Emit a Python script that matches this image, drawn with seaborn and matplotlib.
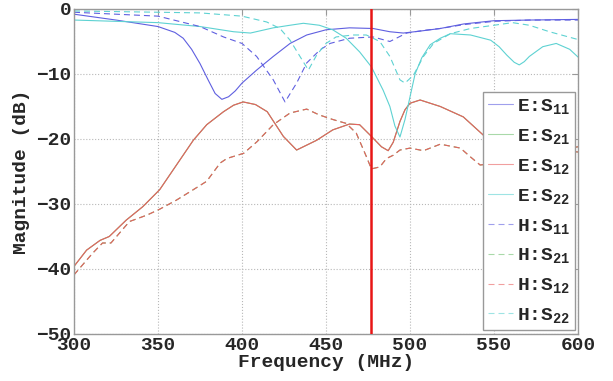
import numpy as np
import pandas as pd
import seaborn as sns
import matplotlib
matplotlib.use("Agg")
import matplotlib.pyplot as plt

# values (frequency in MHz, magnitude in dB)
e_s11_f = [300, 325, 350, 360, 365, 370, 375, 380, 384, 388, 392, 396, 400, 408.7, 418.6, 428.6, 438.5,
           450, 464, 478, 488, 496, 506, 518, 532, 550, 571, 600]
e_s11_v = [-0.8, -1.7, -2.7, -3.6, -4.5, -6.2, -8.4, -11.0, -13.0, -13.9, -13.5, -12.6, -11.4, -9.4, -7.3,
           -5.3, -4.0, -3.2, -2.9, -3.0, -3.5, -3.7, -3.4, -3.0, -2.3, -1.8, -1.7, -1.6]

e_s22_f = [300, 350, 375, 395, 405, 418.6, 428.6, 436.5, 446, 454, 462, 470, 477, 484, 488, 491, 494,
           497, 500, 503, 507, 512, 518, 524, 536, 548, 553, 557.6, 562, 565, 568, 571, 579, 587,
           595, 600]
e_s22_v = [-1.7, -2.1, -2.7, -3.5, -3.7, -2.9, -2.5, -2.2, -2.5, -3.2, -4.5, -6.6, -8.9, -12.5, -15.0,
           -18.0, -19.7, -17.0, -13.5, -10.0, -7.5, -5.5, -4.5, -3.8, -4.0, -4.8, -5.8, -7.1, -8.2, -8.6,
           -8.1, -7.3, -5.8, -5.3, -6.2, -7.4]

h_s11_f = [300, 350, 375, 389, 400, 408.7, 418.6, 425.6, 432.5, 438.5, 446.4, 452.4, 464, 478, 488,
           498, 508, 518, 532, 550, 571, 600]
h_s11_v = [-0.5, -1.1, -2.7, -4.3, -5.3, -7.3, -10.9, -14.3, -11.4, -8.3, -6.3, -5.3, -4.5, -4.3, -5.0,
           -3.7, -3.3, -3.0, -2.4, -1.9, -1.7, -1.7]

h_s22_f = [300, 350, 375, 400, 414.7, 422.6, 428.6, 434.5, 439.5, 444.4, 450, 456, 466, 474, 482, 488,
           494, 497, 502, 508, 514, 524, 536, 550, 561, 571, 583, 600]
h_s22_v = [-0.3, -0.5, -0.6, -1.1, -2.0, -3.0, -4.8, -7.3, -9.4, -7.1, -5.3, -4.3, -4.0, -4.0, -5.0, -7.3,
           -10.9, -11.4, -10.2, -7.3, -5.3, -3.8, -3.0, -2.5, -2.1, -2.5, -3.5, -4.7]

e_s12_f = [300, 307.5, 315.5, 321, 331, 341, 351, 361, 371, 379, 383, 389, 395, 400.7, 408, 415, 424.6,
           432.5, 444.4, 454, 464, 470, 477, 483, 487, 490, 494, 497, 500, 506, 518, 531.7, 543.6,
           560, 580, 600]
e_s12_v = [-39.6, -37.1, -35.6, -35.0, -32.5, -30.4, -27.8, -24.0, -20.2, -17.8, -17.0, -15.8, -14.8, -14.3,
           -14.7, -15.8, -19.6, -21.7, -20.2, -18.6, -17.7, -17.8, -19.6, -21.2, -21.8, -20.5, -17.3, -15.5,
           -14.5, -14.0, -15.0, -16.6, -19.4, -20.8, -21.6, -22.0]

h_s12_f = [300, 311, 317, 322, 333, 343.5, 351, 361, 371, 379, 387, 391, 401, 409, 418.6, 428.6, 438.5,
           446, 454, 462, 468, 474, 477, 482, 486, 490, 494, 500, 508, 518, 530, 535.7, 541.7, 560,
           580, 600]
h_s12_v = [-40.9, -37.6, -36.0, -36.0, -32.7, -31.7, -30.8, -29.4, -27.8, -26.5, -23.7, -23.0, -22.2, -20.4,
           -17.8, -16.0, -15.4, -16.3, -17.0, -17.6, -19.1, -22.7, -24.6, -24.3, -23.0, -22.5, -21.7, -21.4,
           -21.8, -20.8, -21.4, -22.7, -24.0, -23.5, -22.0, -21.2]

# reciprocal network: S21 equals S12 (hidden under the red curves)
e_s21_f, e_s21_v = e_s12_f, e_s12_v
h_s21_f, h_s21_v = h_s12_f, h_s12_v

marker_freq = 477

sns.set_style("white")
plt.rcParams['font.family'] = ['Liberation Mono', 'DejaVu Sans']
plt.rcParams['font.weight'] = 'bold'
plt.rcParams['mathtext.fontset'] = 'custom'
plt.rcParams['mathtext.rm'] = 'Liberation Mono:bold'
plt.rcParams['mathtext.bf'] = 'Liberation Mono:bold'
plt.rcParams['mathtext.it'] = 'Liberation Mono:bold'

fig, ax = plt.subplots(figsize=(6.13, 3.81), dpi=100)
fig.subplots_adjust(left=0.1207, right=0.943, top=0.9764, bottom=0.1234)

blue = '#5f5fe0'
green = '#70c070'
red = '#e86060'
cyan = '#5ed2d2'
dash = (0, (5.4, 3.6))
lw = 0.8

series = [
    ('E:S$_{11}$', e_s11_f, e_s11_v, blue, '-'),
    ('E:S$_{21}$', e_s21_f, e_s21_v, green, '-'),
    ('E:S$_{12}$', e_s12_f, e_s12_v, red, '-'),
    ('E:S$_{22}$', e_s22_f, e_s22_v, cyan, '-'),
    ('H:S$_{11}$', h_s11_f, h_s11_v, blue, dash),
    ('H:S$_{21}$', h_s21_f, h_s21_v, green, dash),
    ('H:S$_{12}$', h_s12_f, h_s12_v, red, dash),
    ('H:S$_{22}$', h_s22_f, h_s22_v, cyan, dash),
]
for name, f, v, c, ls in series:
    df = pd.DataFrame({'f': f, 'v': v})
    sns.lineplot(data=df, x='f', y='v', ax=ax, color=c, linestyle=ls, linewidth=lw, label=name)

ax.axvline(marker_freq, color='#e81515', linewidth=1.8, zorder=5)

ax.set_xlim(300, 600)
ax.set_ylim(-50, 0)
ax.set_xticks([300, 350, 400, 450, 500, 550, 600])
ax.set_yticks([-50, -40, -30, -20, -10, 0])
ax.set_yticklabels(['\u221250', '\u221240', '\u221230', '\u221220', '\u221210', '0'])
ax.grid(True, linestyle=':', color='#b8b8b8', linewidth=0.8)
ax.tick_params(direction='in', length=4, color='#999999', labelsize=14, top=True, right=True, pad=2)
for s in ax.spines.values():
    s.set_color('#999999')
    s.set_linewidth(1.0)

ax.set_xlabel('Frequency (MHz)', fontsize=14, fontweight='bold', labelpad=0)
ax.set_ylabel('Magnitude (dB)', fontsize=14, fontweight='bold', labelpad=4)

leg = ax.legend(loc='lower right', bbox_to_anchor=(0.994, 0.012), borderaxespad=0,
                fontsize=14, handlelength=1.3, handletextpad=0.2, labelspacing=0.56,
                fancybox=False, framealpha=1, edgecolor='#999999', borderpad=0.25)
leg.get_frame().set_linewidth(1.0)
for h in leg.get_lines():
    h.set_alpha(0.6)

fig.savefig('out.png', dpi=100, facecolor='white')
